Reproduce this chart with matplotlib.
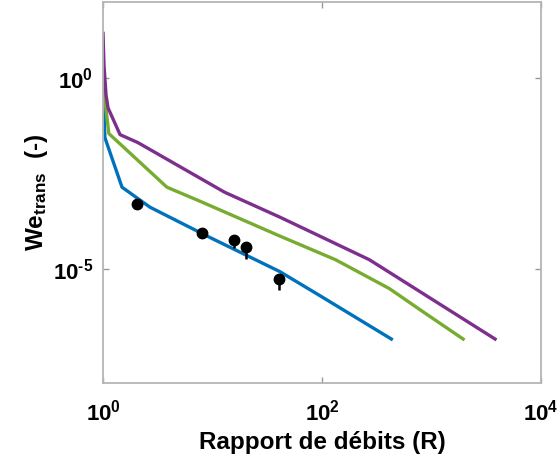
import numpy as np
import matplotlib
matplotlib.use('Agg')
import matplotlib.pyplot as plt

# data (log-log)
R_blue = [1.0, 1.04, 1.49, 2.68, 8.87, 41.0, 94.9, 430.0]
We_blue = [0.66, 0.0274, 1.37e-3, 4.1e-4, 7.2e-5, 8.4e-6, 1.98e-6, 1.42e-7]

R_green = [1.0, 1.04, 1.13, 3.83, 7.65, 41.0, 133.0, 412.0, 824.0, 1945.0]
We_green = [2.94, 0.27, 0.035, 1.37e-3, 5.9e-4, 7.2e-5, 1.71e-5, 3.0e-6, 7.6e-7, 1.42e-7]

R_purple = [1.0, 1.02, 1.065, 1.11, 1.43, 2.08, 12.9, 41.0, 271.0, 3810.0]
We_purple = [14.9, 2.18, 0.36, 0.166, 0.0328, 0.0203, 1.01e-3, 2.26e-4, 1.71e-5, 1.42e-7]

R_exp = [2.04, 8.0, 15.6, 20.1, 40.2]
We_exp = [4.9e-4, 8.7e-5, 5.7e-5, 3.7e-5, 5.2e-6]
err_low = [0.0, 0.0, 2.2e-5, 1.9e-5, 2.5e-6]
err_up = [0.0, 0.0, 0.0, 0.0, 0.0]

plt.rcParams['font.family'] = 'Liberation Sans'
plt.rcParams['font.weight'] = 'bold'
plt.rcParams['axes.unicode_minus'] = False
plt.rcParams['mathtext.fontset'] = 'custom'
plt.rcParams['mathtext.rm'] = 'Liberation Sans:bold'
plt.rcParams['mathtext.bf'] = 'Liberation Sans:bold'
plt.rcParams['mathtext.it'] = 'Liberation Sans:bold'

fig = plt.figure(figsize=(5.6, 4.67), dpi=100)
ax = fig.add_axes([0.184, 0.18, 0.782, 0.816])

ax.plot(R_blue, We_blue, color='#0072BD', lw=2.4)
ax.plot(R_green, We_green, color='#77AC30', lw=2.4)
ax.plot(R_purple, We_purple, color='#7E2F8E', lw=2.4)
ax.errorbar(R_exp, We_exp, yerr=[err_low, err_up], fmt='o', color='black',
            ms=7.5, elinewidth=1.8, capsize=0)

ax.set_xscale('log')
ax.set_yscale('log')
ax.set_xlim(1, 1e4)
ax.set_ylim(1e-8, 1e2)
ax.set_xticks([1, 1e2, 1e4])
ax.set_xticklabels([r'$10^{0}$', r'$10^{2}$', r'$10^{4}$'])
ax.set_yticks([1e-5, 1])
ax.set_yticklabels([r'$10^{\text{-}5}$', r'$10^{0}$'])
ax.minorticks_off()
ax.tick_params(axis='x', which='both', direction='in', length=4, width=1,
               color='#999999', labelsize=16, pad=12, top=True)
ax.tick_params(axis='y', which='both', direction='in', length=4, width=1,
               color='#999999', labelsize=16, pad=7, right=True)
for s in ax.spines.values():
    s.set_color('#b5b5b5')
    s.set_linewidth(1.3)

ax.set_xlabel('Rapport de débits (R)', fontsize=17.5, fontweight='bold', labelpad=4)
ax.set_ylabel(r'We$_{trans}$  (-)', fontsize=17.5, fontweight='bold', labelpad=2)

fig.savefig('out.png', dpi=100)
